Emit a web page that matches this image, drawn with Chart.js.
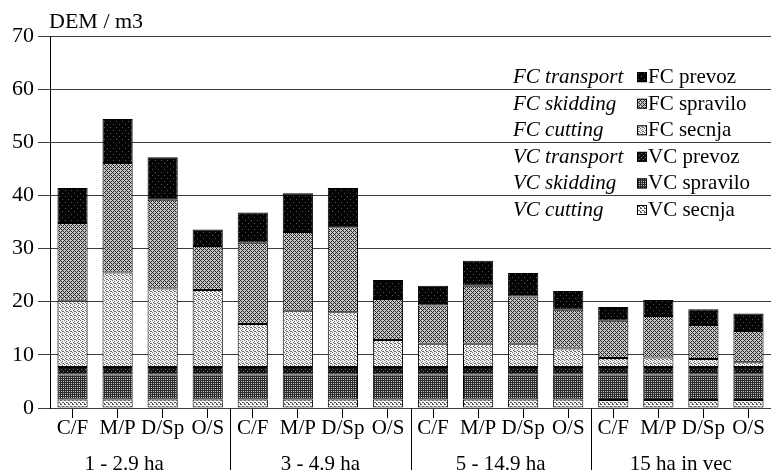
<!DOCTYPE html>
<html>
<head>
<meta charset="utf-8">
<script src="https://cdn.jsdelivr.net/npm/chart.js@4.4.1/dist/chart.umd.min.js"></script>
<style>
  html, body { margin: 0; padding: 0; background: #fff; }
  #wrap { width: 771px; height: 470px; position: relative; }
</style>
</head>
<body>
<div id="wrap"><canvas id="c" width="771" height="470"></canvas></div>
<script>
// ---------- data ----------
const categories = ['C/F','M/P','D/Sp','O/S','C/F','M/P','D/Sp','O/S','C/F','M/P','D/Sp','O/S','C/F','M/P','D/Sp','O/S'];
const groups = ['1 - 2.9 ha','3 - 4.9 ha','5 - 14.9 ha','15 ha in vec'];
const yTicks = [0,10,20,30,40,50,60,70];
const yTitle = 'DEM / m3';

const vcSecnja   = [1.6,1.6,1.6,1.6, 1.6,1.6,1.6,1.6, 1.6,1.6,1.6,1.6, 1.5,1.5,1.5,1.5];
const vcSpravilo = [4.7,4.7,4.7,4.7, 4.7,4.7,4.7,4.7, 4.7,4.7,4.7,4.7, 4.8,4.8,4.8,4.8];
const vcPrevoz   = [1.4,1.4,1.4,1.4, 1.4,1.4,1.4,1.4, 1.4,1.4,1.4,1.4, 1.4,1.4,1.4,1.4];
const fcSecnja   = [12.5,17.8,14.8,14.5, 8.1,10.6,10.3,5.1, 4.4,4.4,4.4,3.5, 1.7,1.8,1.5,0.9];
const fcSpravilo = [14.6,20.6,16.7,8.3, 15.3,14.8,16.0,7.7, 7.2,10.9,8.9,7.3, 7.0,7.8,6.4,5.9];
const fcPrevoz   = [6.6,8.3,8.0,3.1, 5.7,7.3,7.4,3.6, 3.7,4.7,4.4,3.5, 2.6,3.0,3.0,3.3];

const seriesNames   = ['VC secnja','VC spravilo','VC prevoz','FC secnja','FC spravilo','FC prevoz'];
const seriesEnglish = ['VC cutting','VC skidding','VC transport','FC cutting','FC skidding','FC transport'];
const seriesValues  = [vcSecnja, vcSpravilo, vcPrevoz, fcSecnja, fcSpravilo, fcPrevoz];

// ---------- styles ----------
const SERIF = '"Liberation Serif", "Times New Roman", serif';
function makePattern(size, bg, fg, cells) {
  const c = document.createElement('canvas');
  c.width = size; c.height = size;
  const g = c.getContext('2d');
  g.fillStyle = bg; g.fillRect(0, 0, size, size);
  g.fillStyle = fg;
  cells.forEach(([x, y]) => g.fillRect(x, y, 1, 1));
  return document.getElementById('c').getContext('2d').createPattern(c, 'repeat');
}
const patterns = [
  makePattern(4, '#f6f6f6', '#555555', [[0,0],[1,0],[2,2],[3,2],[0,3]]),           // VC secnja
  makePattern(4, '#2a2a2a', '#c4c4c4', [[1,1],[3,3],[1,3],[3,1]]),                 // VC spravilo
  makePattern(4, '#121212', '#6e6e6e', [[1,1],[3,3]]),                             // VC prevoz
  makePattern(4, '#f4f4f4', '#6a6a6a', [[0,0],[2,1],[1,2],[3,3],[2,3]]),           // FC secnja
  makePattern(4, '#c6c6c6', '#262626', [[0,0],[1,1],[2,2],[3,3],[1,3],[3,1]]),     // FC spravilo
  makePattern(6, '#040404', '#555555', [[2,1],[5,4]])                              // FC prevoz
];
const groupLabelShift = [-16, 0, 0, 0];

const decor = {
  id: 'decor',
  afterDraw(chart) {
    const ctx = chart.ctx;
    const xs = chart.scales.x, ys = chart.scales.y;
    const area = chart.chartArea;
    ctx.save();
    // title
    ctx.fillStyle = '#000';
    ctx.font = '22px ' + SERIF;
    ctx.textAlign = 'left';
    ctx.textBaseline = 'alphabetic';
    ctx.fillText(yTitle, area.left - 1, 28);
    // group separators and labels
    ctx.strokeStyle = '#000';
    ctx.lineWidth = 1;
    ctx.font = '21px ' + SERIF;
    const per = categories.length / groups.length;
    for (let g = 0; g < groups.length; g++) {
      const first = xs.getPixelForValue(g * per);
      const last = xs.getPixelForValue(g * per + per - 1);
      if (g > 0) {
        const prev = xs.getPixelForValue(g * per - 1);
        const sx = Math.round((prev + first) / 2) + 0.5;
        ctx.beginPath();
        ctx.moveTo(sx, area.bottom);
        ctx.lineTo(sx, chart.height);
        ctx.stroke();
      }
      ctx.textAlign = 'center';
      ctx.fillText(groups[g], (first + last) / 2 + groupLabelShift[g], 470);
    }
    // legend
    const step = (ys.getPixelForValue(50) - ys.getPixelForValue(60)) / 2;
    const base0 = ys.getPixelForValue(60) - 6;
    for (let k = 0; k < seriesNames.length; k++) {
      const i = seriesNames.length - 1 - k;
      const by = base0 + k * step;
      ctx.textAlign = 'left';
      ctx.font = 'italic 21px ' + SERIF;
      ctx.fillStyle = '#000';
      ctx.fillText(seriesEnglish[i], 513, by);
      ctx.fillStyle = patterns[i];
      ctx.fillRect(637, by - 11, 10, 10);
      ctx.strokeStyle = '#000';
      ctx.strokeRect(637.5, by - 10.5, 9, 9);
      ctx.fillStyle = '#000';
      ctx.font = '21px ' + SERIF;
      ctx.fillText(seriesNames[i], 648, by);
    }
    ctx.restore();
  }
};

const datasets = seriesNames.map((name, i) => ({
  label: name,
  data: seriesValues[i],
  backgroundColor: patterns[i],
  borderColor: '#000',
  borderWidth: 1,
  borderSkipped: false,
  categoryPercentage: 1.0,
  barPercentage: 0.67
}));

new Chart(document.getElementById('c'), {
  type: 'bar',
  data: { labels: categories, datasets },
  options: {
    responsive: false,
    animation: false,
    devicePixelRatio: 1,
    layout: { padding: { top: 36, right: 0, left: 0, bottom: 0 } },
    plugins: { legend: { display: false }, tooltip: { enabled: false }, title: { display: false } },
    scales: {
      x: {
        stacked: true,
        offset: true,
        grid: { display: true, drawOnChartArea: false, offset: false, tickLength: 10, color: '#000', lineWidth: 1 },
        border: { display: false },
        ticks: { autoSkip: false, maxRotation: 0, minRotation: 0, color: '#000', padding: 0,
                 font: { family: SERIF, size: 21, lineHeight: 1 } },
        afterFit(s) { s.height = 62; }
      },
      y: {
        stacked: true,
        min: yTicks[0], max: yTicks[yTicks.length - 1],
        afterBuildTicks(s) { s.ticks = yTicks.map(v => ({ value: v })); },
        ticks: { color: '#000', padding: 4, font: { family: SERIF, size: 22 } },
        grid: { color: '#3c3c3c', lineWidth: 1, tickLength: 12 },
        border: { display: true, color: '#000', width: 1 },
        afterFit(s) { s.width = 50; }
      }
    }
  },
  plugins: [decor]
});
</script>
</body>
</html>
